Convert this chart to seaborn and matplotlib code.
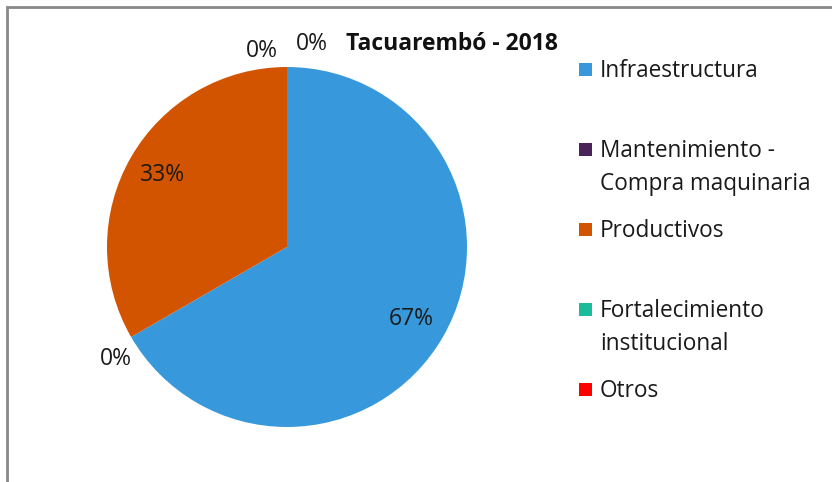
import numpy as np
import seaborn as sns
import matplotlib.pyplot as plt
from matplotlib.patches import Rectangle

# data
categorias = ["Infraestructura", "Mantenimiento -\nCompra maquinaria", "Productivos",
              "Fortalecimiento\ninstitucional", "Otros"]
proyectos = [2, 0, 1, 0, 0]
colores = ["#3799db", "#4a2359", "#d35400", "#1abc9c", "#ff0000"]
titulo = "Tacuarembó - 2018"

sns.set_theme(style="white")
plt.rcParams["font.family"] = ["Open Sans", "DejaVu Sans"]

W, H = 832, 482
fig = plt.figure(figsize=(W / 100, H / 100), dpi=100)

# chart frame (open on the right and bottom, cut by the image edge)
fig.patches.append(Rectangle((7.5 / W, -0.1), 1.2, 1 - 7 / H + 0.1, transform=fig.transFigure,
                             fill=False, edgecolor="#888888", linewidth=2))

# pie area: centre (287, 247), radius 180 px
cx, cy, r = 287, 247, 180
ax = fig.add_axes([(cx - r) / W, (H - cy - r) / H, 2 * r / W, 2 * r / H])
ax.pie(proyectos, colors=colores, startangle=90, counterclock=False,
       wedgeprops=dict(linewidth=0))
ax.set_xlim(-1, 1)
ax.set_ylim(-1, 1)
ax.axis("off")

# percent labels
vals = np.array(proyectos, dtype=float)
frac = vals / vals.sum()
fin = np.cumsum(frac)
mid = fin - frac / 2
nudges = {1: (0.02, -0.06), 3: (-0.14, -0.03), 4: (0.14, 0.01)}
for i, (f, m) in enumerate(zip(frac, mid)):
    ang = np.deg2rad(90 - 360 * m)
    d = 0.8 if f > 0 else 1.12
    x, y = d * np.cos(ang), d * np.sin(ang)
    dx, dy = nudges.get(i, (0, 0))
    ax.text(x + dx, y + dy, f"{f:.0%}", ha="center", va="center",
            fontsize=16.5, color="#1a1a1a", clip_on=False)

fig.text(452 / W, 1 - 44 / H, titulo, ha="center", va="center",
         fontsize=16.5, fontweight="bold", color="#111111")

# legend, one slot every 80 px, marker on the first line
for i, (lab, col) in enumerate(zip(categorias, colores)):
    base = 77 + 80 * i
    fig.patches.append(Rectangle((579 / W, 1 - (base - 1) / H), 13 / W, 13 / H,
                                 transform=fig.transFigure, facecolor=col, edgecolor="none"))
    for j, linea in enumerate(lab.split("\n")):
        fig.text(600 / W, 1 - (base + 33 * j) / H, linea, ha="left", va="baseline",
                 fontsize=16.3, color="#1a1a1a")

fig.savefig("out.png", dpi=100, facecolor="white")
